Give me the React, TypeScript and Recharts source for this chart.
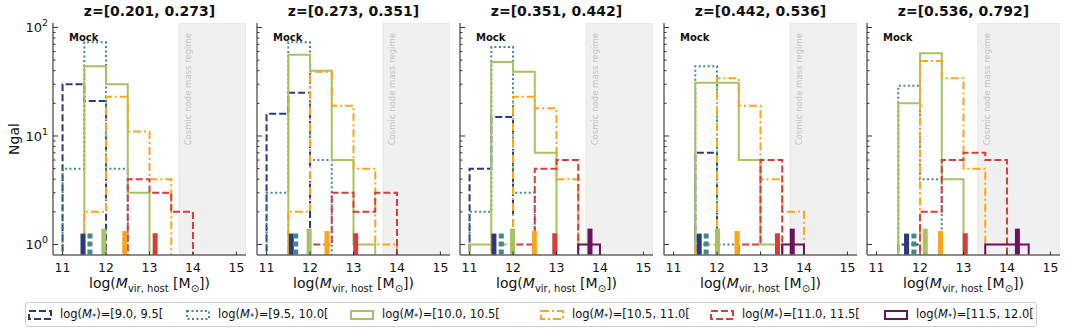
import React from "react";
import { LineChart, Line, XAxis, YAxis, ReferenceArea, ReferenceLine } from "recharts";

// bin edges shared by every panel (log Mvir,host)
const EDGES = [11.0, 11.5, 12.0, 12.5, 13.0, 13.5, 14.0, 14.5];
const Z_BINS = ["z=[0.201, 0.273]", "z=[0.273, 0.351]", "z=[0.351, 0.442]", "z=[0.442, 0.536]", "z=[0.536, 0.792]"];
const NODE_START = [13.68, 13.68, 13.68, 13.68, 13.33];

// counts per panel, one row per z bin, one column per mass bin
const NAVY = [
  [30, 21, 0, 0, 0, 0, 0],
  [16, 25, 0, 0, 0, 0, 0],
  [5, 15, 0, 0, 0, 0, 0],
  [0, 7, 0, 0, 0, 0, 0],
  [0, 1, 0, 0, 0, 0, 0],
];
const TEAL = [
  [5, 73, 5, 0, 0, 0, 0],
  [3, 73, 6, 0, 0, 0, 0],
  [2, 66, 3, 0, 0, 0, 0],
  [0, 44, 1, 0, 0, 0, 0],
  [0, 29, 4, 0, 0, 0, 0],
];
const GREEN = [
  [0, 44, 30, 3, 0, 0, 0],
  [0, 56, 40, 6, 1, 0, 0],
  [1, 48, 39, 7, 0, 0, 0],
  [0, 31, 31, 6, 1, 0, 0],
  [0, 20, 58, 4, 0, 0, 0],
];
const ORANGE = [
  [0, 2, 23, 11, 4, 0, 0],
  [0, 2, 39, 19, 5, 1, 0],
  [0, 1, 23, 18, 4, 0, 0],
  [0, 1, 34, 19, 4, 2, 0],
  [0, 0, 49, 34, 5, 0, 0],
];
const RED = [
  [0, 0, 0, 4, 3, 2, 0],
  [0, 0, 1, 3, 2, 3, 0],
  [0, 0, 1, 5, 6, 0, 0],
  [0, 0, 0, 1, 6, 0, 0],
  [0, 0, 2, 6, 7, 6, 0],
];
const PURPLE = [
  [0, 0, 0, 0, 0, 0, 0],
  [0, 0, 0, 0, 0, 0, 0],
  [0, 0, 0, 0, 0, 1, 0],
  [0, 0, 0, 0, 0, 1, 0],
  [0, 0, 0, 0, 0, 1, 1],
];

// median host mass per z bin (null = no galaxies)
const MED_NAVY = [11.47, 11.57, 11.56, 11.59, 11.69];
const MED_TEAL = [11.63, 11.67, 11.73, 11.75, 11.86];
const MED_GREEN = [11.95, 11.98, 11.99, 12.01, 12.12];
const MED_ORANGE = [12.43, 12.39, 12.49, 12.46, 12.47];
const MED_RED = [13.13, 13.05, 12.96, 13.39, 13.04];
const MED_PURPLE = [null, null, 13.77, 13.73, 14.24];
const MARKER_TOP = [1.26, 1.26, 1.4, 1.33, 1.27, 1.4];

const LEGEND_LABELS = ["[9.0, 9.5[", "[9.5, 10.0[", "[10.0, 10.5[", "[10.5, 11.0[", "[11.0, 11.5[", "[11.5, 12.0["];

const Y_TICKS = [1, 2, 3, 4, 5, 6, 7, 8, 9, 10, 20, 30, 40, 50, 60, 70, 80, 90, 100];
const X_TICKS = [11, 12, 13, 14, 15];

const SERIES = [
  { counts: NAVY, med: MED_NAVY, color: "#2b3a7e", dash: "7 3" },
  { counts: TEAL, med: MED_TEAL, color: "#3f8b8b", dash: "2 2.5" },
  { counts: GREEN, med: MED_GREEN, color: "#a6c262", dash: undefined },
  { counts: ORANGE, med: MED_ORANGE, color: "#fba61a", dash: "8 3 2 3" },
  { counts: RED, med: MED_RED, color: "#d63d3b", dash: "7 3" },
  { counts: PURPLE, med: MED_PURPLE, color: "#6c1160", dash: undefined },
];

const FONT = "'DejaVu Sans', sans-serif";
const Y_MIN = 0.8;
const Y_MAX = 110;
const FLOOR = 0.3;
const PLOT_LEFTS = [53, 257, 460, 664, 867];
const PLOT_W = 193;
const AXIS_W = 53;
const FRAME = "#666";

function stepPoints(counts: number[]) {
  const idx = counts.map((c, i) => (c > 0 ? i : -1)).filter((i) => i >= 0);
  if (!idx.length) return [];
  const first = idx[0];
  const last = idx[idx.length - 1];
  const pts = [{ x: EDGES[first], y: FLOOR }];
  for (let i = first; i <= last; i++) pts.push({ x: EDGES[i], y: counts[i] > 0 ? counts[i] : FLOOR });
  pts.push({ x: EDGES[last + 1], y: FLOOR });
  return pts;
}

const LeftTick = (props: any) => {
  const { x, y, payload, showLabel } = props;
  const v = payload.value;
  const major = v === 1 || v === 10 || v === 100;
  return (
    <g>
      <line x1={x} x2={x + (major ? 5 : 2.5)} y1={y} y2={y} stroke="#333" strokeWidth={1} />
      {showLabel && major && (
        <text x={x - 5} y={y + 5} textAnchor="end" fontSize={13} fontFamily={FONT} fill="#111">
          10
          <tspan dy={-6} fontSize={9.5}>
            {Math.round(Math.log10(v))}
          </tspan>
        </text>
      )}
    </g>
  );
};

const RightTick = (props: any) => {
  const { x, y, payload } = props;
  const v = payload.value;
  const major = v === 1 || v === 10 || v === 100;
  return <line x1={x - (major ? 5 : 2.5)} x2={x} y1={y} y2={y} stroke="#333" strokeWidth={1} />;
};

const BottomTick = (props: any) => {
  const { x, y, payload } = props;
  return (
    <g>
      <line x1={x} x2={x} y1={y - 3.5} y2={y} stroke="#333" strokeWidth={1} />
      <text x={x} y={y + 17} textAnchor="middle" fontSize={12.5} fontFamily={FONT} fill="#111">
        {payload.value}
      </text>
    </g>
  );
};

const NodeLabel = (props: any) => {
  const vb = props.viewBox;
  const tx = vb.x + 9;
  const ty = vb.y + 10;
  return (
    <text
      x={tx}
      y={ty}
      transform={`rotate(-90 ${tx} ${ty})`}
      textAnchor="end"
      dominantBaseline="central"
      fontSize={8.5}
      fontFamily={FONT}
      fill="#c4c4c4"
    >
      Cosmic node mass regime
    </text>
  );
};

function Panel({ p }: { p: number }) {
  return (
    <LineChart
      width={AXIS_W + PLOT_W + 6}
      height={300}
      margin={{ top: 23, right: 6, left: 0, bottom: 0 }}
    >
      <XAxis
        dataKey="x"
        type="number"
        domain={[10.78, 15.22]}
        ticks={X_TICKS}
        interval={0}
        allowDataOverflow
        height={45}
        tickSize={0}
        tickMargin={0}
        tickLine={false}
        tick={<BottomTick />}
        axisLine={{ stroke: FRAME, strokeWidth: 1.5 }}
      />
      <XAxis xAxisId="top" orientation="top" type="number" domain={[10.78, 15.22]} height={0} tick={false} tickLine={false} axisLine={{ stroke: FRAME, strokeWidth: 1.5 }} />
      <YAxis
        type="number"
        scale="log"
        domain={[Y_MIN, Y_MAX]}
        allowDataOverflow
        ticks={Y_TICKS}
        interval={0}
        width={AXIS_W}
        tickSize={0}
        tickMargin={0}
        tickLine={false}
        tick={<LeftTick showLabel={p === 0} />}
        axisLine={{ stroke: FRAME, strokeWidth: 1.5 }}
      />
      <YAxis
        yAxisId="r"
        orientation="right"
        type="number"
        scale="log"
        domain={[Y_MIN, Y_MAX]}
        allowDataOverflow
        ticks={Y_TICKS}
        interval={0}
        width={0}
        tickSize={0}
        tickMargin={0}
        tickLine={false}
        tick={<RightTick />}
        axisLine={{ stroke: FRAME, strokeWidth: 1.5 }}
      />
      <ReferenceArea
        x1={NODE_START[p]}
        x2={15.22}
        y1={Y_MIN}
        y2={Y_MAX}
        fill="#f0f0f0"
        fillOpacity={1}
        stroke="#e2e2e2"
        strokeWidth={0.8}
        ifOverflow="hidden"
        label={NodeLabel}
      />
      {SERIES.map((s, i) => (
        <Line
          key={"h" + i}
          data={stepPoints(s.counts[p])}
          dataKey="y"
          type="stepAfter"
          stroke={s.color}
          strokeWidth={2}
          strokeDasharray={s.dash}
          dot={false}
          activeDot={false}
          isAnimationActive={false}
        />
      ))}
      {SERIES.map((s, i) =>
        s.med[p] == null ? null : (
          <ReferenceLine
            key={"m" + i}
            segment={[
              { x: s.med[p] as number, y: MARKER_TOP[i] },
              { x: s.med[p] as number, y: Y_MIN },
            ]}
            stroke={s.color}
            strokeWidth={5}
            strokeDasharray={i === 1 ? "5 3" : undefined}
            ifOverflow="visible"
          />
        )
      )}
    </LineChart>
  );
}

function LegendHandle({ color, dash }: { color: string; dash?: string }) {
  return (
    <svg width={24} height={10} style={{ display: "block" }}>
      <rect x={1} y={1} width={22} height={8} fill="none" stroke={color} strokeWidth={2} strokeDasharray={dash} />
    </svg>
  );
}

const LEGEND_TEXT_X = [60, 218, 382, 572, 742, 916];

export default function App() {
  return (
    <div
      style={{
        position: "absolute",
        left: 0,
        top: 0,
        width: 1080,
        height: 332,
        background: "#fff",
        overflow: "hidden",
        fontFamily: FONT,
        color: "#111",
      }}
    >
      {PLOT_LEFTS.map((L, p) => (
        <React.Fragment key={p}>
          <div style={{ position: "absolute", left: L - AXIS_W, top: 0 }}>
            <Panel p={p} />
          </div>
          <div
            style={{
              position: "absolute",
              left: L - 10,
              width: PLOT_W + 20,
              top: 3,
              textAlign: "center",
              fontSize: 14,
              fontWeight: "bold",
              lineHeight: "17px",
              whiteSpace: "nowrap",
            }}
          >
            {Z_BINS[p]}
          </div>
          <div style={{ position: "absolute", left: L + 16, top: 32, fontSize: 10, fontWeight: "bold", lineHeight: "12px" }}>
            Mock
          </div>
          <div
            style={{
              position: "absolute",
              left: L - 10,
              width: PLOT_W + 20,
              top: 274,
              textAlign: "center",
              fontSize: 14,
              lineHeight: "18px",
              whiteSpace: "nowrap",
            }}
          >
            log(<i>M</i>
            <sub style={{ fontSize: 10 }}>vir, host</sub> [M<sub style={{ fontSize: 10 }}>⊙</sub>])
          </div>
        </React.Fragment>
      ))}
      <div
        style={{
          position: "absolute",
          left: 14,
          top: 139,
          transform: "translate(-50%, -50%) rotate(-90deg)",
          fontSize: 14,
          whiteSpace: "nowrap",
        }}
      >
        Ngal
      </div>
      <div
        style={{
          position: "absolute",
          left: 25,
          top: 302,
          width: 1012,
          height: 25,
          border: "1px solid #d0d0d0",
          borderRadius: 3,
          boxSizing: "border-box",
        }}
      />
      {SERIES.map((s, i) => (
        <React.Fragment key={"lg" + i}>
          <div style={{ position: "absolute", left: LEGEND_TEXT_X[i] - 32, top: 310 }}>
            <LegendHandle color={s.color} dash={s.dash} />
          </div>
          <div style={{ position: "absolute", left: LEGEND_TEXT_X[i], top: 306, fontSize: 11.5, lineHeight: "17px", whiteSpace: "nowrap" }}>
            log(<i>M</i>
            <sub style={{ fontSize: 8.5, verticalAlign: "-2px" }}>*</sub>)={LEGEND_LABELS[i]}
          </div>
        </React.Fragment>
      ))}
    </div>
  );
}
